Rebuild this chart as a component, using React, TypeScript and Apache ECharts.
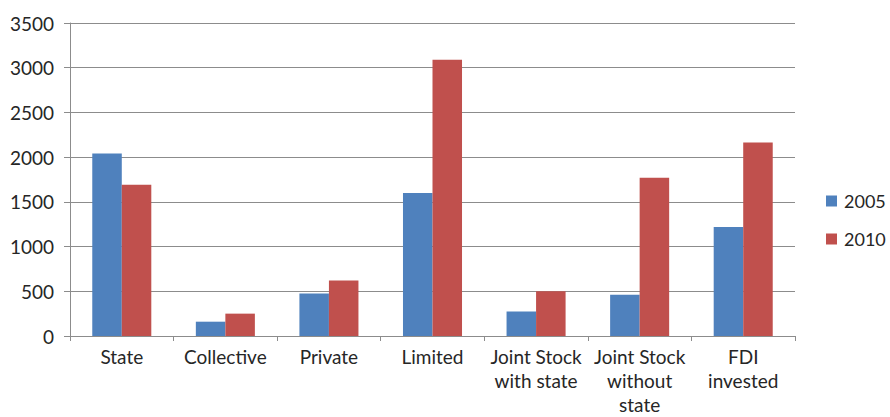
import React, { useEffect, useRef } from "react";
import * as echarts from "echarts";

const categories = [
  "State",
  "Collective",
  "Private",
  "Limited",
  "Joint Stock\nwith state",
  "Joint Stock\nwithout\nstate",
  "FDI\ninvested",
];
const series2005 = [2040, 160, 475, 1600, 275, 460, 1220];
const series2010 = [1690, 250, 620, 3090, 500, 1770, 2165];
const yTicks = { min: 0, max: 3500, interval: 500 };

export default function App() {
  const ref = useRef<HTMLDivElement>(null);
  useEffect(() => {
    const chart = echarts.init(ref.current!, null, { renderer: "svg" });
    const font = "Lato";
    chart.setOption({
      animation: false,
      backgroundColor: "#ffffff",
      textStyle: { fontFamily: font },
      legend: {
        orient: "vertical",
        left: 826,
        top: 192,
        padding: 0,
        itemWidth: 11,
        itemHeight: 11,
        itemGap: 20,
        icon: "rect",
        textStyle: { fontFamily: font, fontSize: 18, color: "#262626", padding: [0, 0, 0, 2] },
        data: ["2005", "2010"],
      },
      grid: { left: 70, right: 95, top: 23, bottom: 81, containLabel: false },
      xAxis: {
        type: "category",
        data: categories,
        axisLine: { lineStyle: { color: "#8c8c8c", width: 1 } },
        axisTick: { show: true, length: 5, alignWithLabel: false, lineStyle: { color: "#8c8c8c" } },
        axisLabel: {
          interval: 0,
          margin: 8,
          fontFamily: font,
          fontSize: 19,
          lineHeight: 24,
          color: "#262626",
          align: "center",
        },
      },
      yAxis: {
        type: "value",
        min: yTicks.min,
        max: yTicks.max,
        interval: yTicks.interval,
        axisLine: { show: true, lineStyle: { color: "#8c8c8c", width: 1 } },
        axisTick: { show: true, length: 6, lineStyle: { color: "#8c8c8c" } },
        splitLine: { show: true, lineStyle: { color: "#8c8c8c", width: 1 } },
        axisLabel: {
          margin: 16,
          fontFamily: font,
          fontSize: 19,
          color: "#262626",
          formatter: (v: number) => String(v),
        },
      },
      series: [
        {
          name: "2005",
          type: "bar",
          data: series2005,
          barWidth: "28.5%",
          barGap: "0%",
          itemStyle: { color: "#4F81BD" },
        },
        {
          name: "2010",
          type: "bar",
          data: series2010,
          barWidth: "28.5%",
          barGap: "0%",
          itemStyle: { color: "#C0504D" },
        },
      ],
    });
    return () => chart.dispose();
  }, []);
  return (
    <div
      ref={ref}
      style={{ position: "fixed", left: 0, top: 0, width: 890, height: 417 }}
    />
  );
}
